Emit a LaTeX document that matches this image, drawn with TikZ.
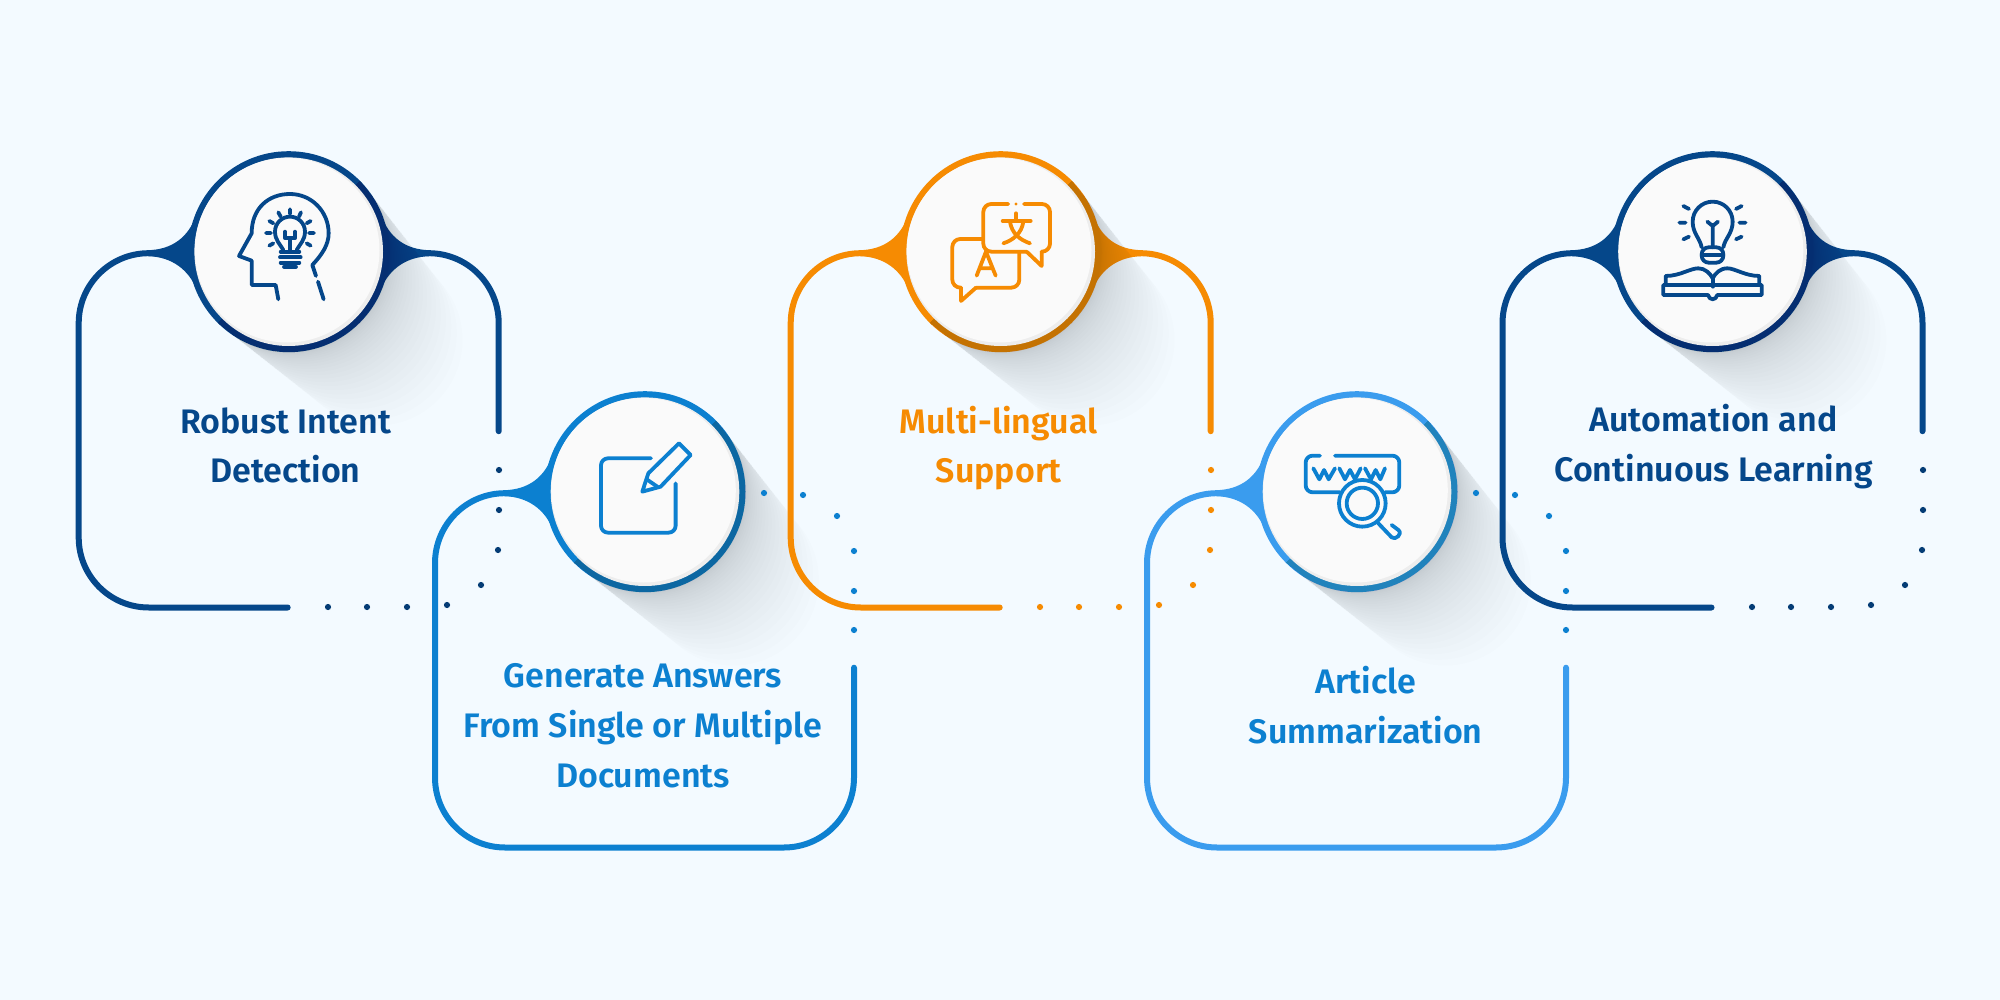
\documentclass[tikz,border=0pt]{standalone}
\usepackage{fontspec}
\setmainfont{Fira Sans SemiBold}
\definecolor{pagebg}{HTML}{F3FAFF}
\definecolor{navy}{HTML}{05478A}
\definecolor{midblue}{HTML}{0C80D0}
\definecolor{amber}{HTML}{F68B02}
\definecolor{skyblue}{HTML}{3A9CEE}
\definecolor{castcol}{HTML}{1E1E28}
\tikzset{
  boxline/.style={line width=6pt,line cap=round,rounded corners=70pt},
  iconline/.style={line width=3.8pt,line cap=round,line join=round},
  label/.style={font=\fontsize{34}{34}\selectfont,anchor=base,inner sep=0pt},
}
% flared joints between a box top and its disc
\newcommand{\flareleft}[1]{\fill[#1] (-141,-1.5) .. controls (-117,-2) and (-100,-14) .. (-92,-38) -- (-60,-38) -- (-60,38) -- (-92,38) .. controls (-100,18) and (-117,5) .. (-141,4.5) -- cycle;}
\newcommand{\flareright}[1]{\fill[#1] (141,-1.5) .. controls (117,-2) and (100,-14) .. (92,-38) -- (60,-38) -- (60,38) -- (92,38) .. controls (100,18) and (117,5) .. (141,4.5) -- cycle;}
% ring, long cast shadow that tapers as it fades, then the bevelled face on top
\newcommand{\discface}[1]{%
  \fill[#1] (0,0) circle[radius=100.5];
  \foreach \k in {1,...,25}{
    \pgfmathsetmacro{\d}{0.2*\k*\k}
    \pgfmathsetmacro{\r}{100.5-0.12*\d}
    \pgfmathsetmacro{\sx}{(\d+\r)*0.7071}
    \pgfmathsetmacro{\sy}{(\d-\r)*0.7071}
    \fill[castcol,opacity=0.0085] (71.06,-71.06) -- (\sx,\sy) arc[start angle=-45,end angle=135,radius=\r] -- (-71.06,71.06) -- cycle;
  }
  \fill[black!7] (0,0) circle[radius=94.3];
  \fill[white!98!black] (-1.5,-1.5) circle[radius=92.3];
}
\begin{document}
\begin{tikzpicture}[x=1pt,y=-1pt]
\useasboundingbox (0,0) rectangle (2000,1000);
\fill[pagebg] (0,0) rectangle (2000,1000);

% --- first panel ---
\begin{scope}[shift={(288.7pt,-251.7pt)}]
  \draw[boxline,navy] (210,179.5) -- (210,1.5) -- (-210,1.5) -- (-210,355.8) -- (-1,355.8);
  \flareleft{navy}\flareright{navy}
  \discface{navy}
\end{scope}
\foreach \px/\py in {328/607,367/607,407/607,447/605,481/585,498/550,499/510,499/470}
  \fill[navy!85!black] (\px,\py) circle[radius=3.1];
\begin{scope}[xshift=230pt,yshift=-170pt,x=0.3333pt,y=-0.3333pt]
  \draw[iconline,navy] (145,388) -- (137,345) -- (65,345) -- (65,272) -- (27,258) -- (65,190) .. controls (65,115) and (115,72) .. (180,72) .. controls (245,72) and (296,125) .. (296,190) .. controls (296,225) and (275,255) .. (247,285) -- (258,318);
  \draw[iconline,navy] (264,335) -- (281,388);
  \draw[iconline,navy] (160,240) .. controls (150,222) and (135,210) .. (135,185) arc[start angle=180,end angle=360,radius=45] .. controls (225,210) and (210,222) .. (200,240);
  \draw[iconline,navy] (165,185) -- (165,205) -- (195,205) -- (195,185);
  \draw[iconline,navy] (180,205) -- (180,240);
  \draw[iconline,navy] (152,245) -- (208,245) (150,262) -- (212,262) (152,278) -- (208,278) (162,290) -- (198,290);
  \draw[iconline,navy] (180,118) -- (180,132) (145,127) -- (152,140) (213,127) -- (207,140) (118,153) -- (130,160) (242,153) -- (230,160) (108,189) -- (123,189) (237,189) -- (252,189) (118,227) -- (130,220) (242,227) -- (230,220);
\end{scope}
\node[label,text=navy] (tA1) at (285.5,433) {Robust Intent};
\node[label,text=navy] (tA2) at (285.5,482.5) {Detection};

% --- second panel ---
\begin{scope}[shift={(645pt,-491.7pt)}]
  \draw[boxline,midblue] (209,176) -- (209,355.8) -- (-210,355.8) -- (-210,1.5) -- (-100,1.5);
  \flareleft{midblue}
  \discface{midblue}
\end{scope}
\foreach \px/\py in {764/493,803/495,837/516,854/551,854/591,854/630}
  \fill[midblue] (\px,\py) circle[radius=3.1];
\begin{scope}[xshift=420pt,yshift=-380pt,x=0.3333pt,y=-0.3333pt]
  \draw[iconline,midblue,rounded corners=7pt] (693,235) -- (543,235) -- (543,458) -- (767,458) -- (767,310);
  \draw[iconline,midblue] (685,280) -- (777,190) -- (812,225) -- (722,320) -- (667,335) -- cycle;
  \draw[iconline,midblue] (680,298) -- (712,320);
\end{scope}
\node[label,text=midblue] (tB1) at (643,687) {Generate Answers};
\node[label,text=midblue] (tB2) at (643,737) {From Single or Multiple};
\node[label,text=midblue] (tB3) at (643,787) {Documents};

% --- third panel ---
\begin{scope}[shift={(1000.7pt,-251.7pt)}]
  \draw[boxline,amber] (210,179.5) -- (210,1.5) -- (-210,1.5) -- (-210,355.8) -- (-1,355.8);
  \flareleft{amber}\flareright{amber}
  \discface{amber}
\end{scope}
\foreach \px/\py in {1040/607,1079/607,1119/607,1159/605,1193/585,1210/550,1211/510,1211/470}
  \fill[amber] (\px,\py) circle[radius=3.1];
\begin{scope}[xshift=880pt,yshift=-140pt,x=0.3333pt,y=-0.3333pt]
  \draw[iconline,amber,rounded corners=8pt] (385,192) -- (310,192) -- (310,335) -- (440,335);
  \draw[iconline,amber] (440,335) -- (485,378) -- (485,335);
  \draw[iconline,amber,rounded corners=8pt] (485,335) -- (510,335) -- (510,192) -- (432,192);
  \fill[amber] (408,192) circle[radius=5];
  \draw[iconline,amber,rounded corners=8pt] (305,297) -- (217,297) -- (217,443) -- (243,443);
  \draw[iconline,amber] (243,443) -- (243,483) -- (288,443);
  \draw[iconline,amber,rounded corners=8pt] (288,443) -- (418,443) -- (418,338);
  \draw[iconline,amber] (290,407) -- (318,335) -- (347,407) (300,385) -- (337,385);
  \draw[iconline,amber] (408,220) -- (408,240) (368,243) -- (452,243);
  \draw[iconline,amber] (390,245) .. controls (395,280) and (420,300) .. (450,310);
  \draw[iconline,amber] (430,245) .. controls (425,280) and (400,300) .. (370,310);
\end{scope}
\node[label,text=amber] (tC1) at (998.7,433) {Multi-lingual};
\node[label,text=amber] (tC2) at (998.7,482.5) {Support};

% --- fourth panel ---
\begin{scope}[shift={(1357pt,-491.7pt)}]
  \draw[boxline,skyblue] (209,176) -- (209,355.8) -- (-210,355.8) -- (-210,1.5) -- (-100,1.5);
  \flareleft{skyblue}
  \discface{skyblue}
\end{scope}
\foreach \px/\py in {1476/493,1515/495,1549/516,1566/551,1566/591,1566/630}
  \fill[midblue] (\px,\py) circle[radius=3.1];
\begin{scope}[xshift=1240pt,yshift=-380pt,x=0.3333pt,y=-0.3333pt]
  \draw[iconline,midblue,rounded corners=7pt] (240,227) -- (197,227) -- (197,337) -- (300,337);
  \draw[iconline,midblue,rounded corners=7pt] (285,227) -- (478,227) -- (478,337) -- (435,337);
  \draw[iconline,midblue] (220,265) -- (238,298) -- (252,270) -- (266,298) -- (285,265);
  \draw[iconline,midblue] (298,265) -- (315,298) -- (330,270) -- (345,298) -- (362,265);
  \draw[iconline,midblue] (375,265) -- (393,298) -- (407,270) -- (421,298) -- (435,265);
  \fill[white!98!black] (367,370) circle[radius=70];
  \draw[iconline,midblue] (367,370) circle[radius=70];
  \draw[iconline,midblue] (367,370) circle[radius=47];
  \draw[iconline,midblue] (415,430) -- (455,472) .. controls (465,482) and (490,462) .. (475,450) -- (455,435);
\end{scope}
\node[label,text=midblue] (tD1) at (1365.8,693) {Article};
\node[label,text=midblue] (tD2) at (1365.8,743.5) {Summarization};

% --- fifth panel ---
\begin{scope}[shift={(1712.5pt,-251.7pt)}]
  \draw[boxline,navy] (210,179.5) -- (210,1.5) -- (-210,1.5) -- (-210,355.8) -- (-1,355.8);
  \flareleft{navy}\flareright{navy}
  \discface{navy}
\end{scope}
\foreach \px/\py in {1752/607,1791/607,1831/607,1871/605,1905/585,1922/550,1923/510,1923/470}
  \fill[navy!85!black] (\px,\py) circle[radius=3.1];
\begin{scope}[xshift=1600pt,yshift=-140pt,x=0.3333pt,y=-0.3333pt]
  \draw[iconline,navy] (305,322) .. controls (300,295) and (278,280) .. (278,245) arc[start angle=180,end angle=360,radius=60] .. controls (398,280) and (375,295) .. (370,322);
  \draw[iconline,navy,rounded corners=7pt] (305,322) -- (370,322) -- (370,368) -- (305,368) -- cycle;
  \draw[iconline,navy] (305,344) -- (370,344);
  \draw[iconline,navy] (338,322) -- (338,255) (322,245) -- (338,258) -- (354,245);
  \draw[iconline,navy] (250,198) -- (267,207) (425,198) -- (408,207) (238,248) -- (257,248) (437,248) -- (418,248) (250,298) -- (267,290) (425,290) -- (408,298);
  \draw[iconline,navy] (197,432) -- (197,408) .. controls (240,408) and (270,385) .. (295,385) .. controls (315,385) and (330,400) .. (338,415) .. controls (346,400) and (360,385) .. (382,385) .. controls (405,385) and (435,408) .. (478,408) -- (478,432);
  \draw[iconline,navy] (338,415) -- (338,440);
  \draw[iconline,navy] (190,435) -- (485,435) -- (485,465) -- (352,465) .. controls (348,482) and (328,482) .. (324,465) -- (190,465) -- cycle;
\end{scope}
\node[label,text=navy] (tE1) at (1713.5,431.3) {Automation and};
\node[label,text=navy] (tE2) at (1713.5,481) {Continuous Learning};
\end{tikzpicture}
\end{document}
